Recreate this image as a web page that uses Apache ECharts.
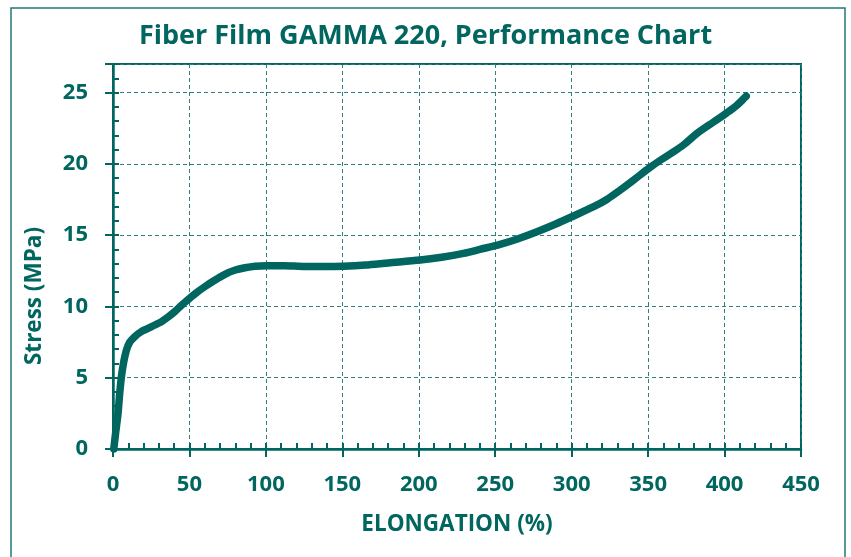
<!DOCTYPE html>
<html>
<head>
<meta charset="utf-8">
<script src="https://cdn.jsdelivr.net/npm/echarts@6/dist/echarts.min.js"></script>
<style>html,body{margin:0;padding:0;background:#fff}#c{width:851px;height:557px}</style>
</head>
<body>
<div id="c"></div>
<script>
const titleText = 'Fiber Film GAMMA 220, Performance Chart';
const xName = 'ELONGATION (%)';
const yName = 'Stress (MPa)';
const xTicks = [0, 50, 100, 150, 200, 250, 300, 350, 400, 450];
const yTicks = [0, 5, 10, 15, 20, 25];
const elongation = [0.5, 1.8, 3.3, 4.3, 5.5, 7, 8.8, 11, 14.2, 18, 22.9, 27, 31.7, 36, 40.4, 45, 50.9, 55, 60, 66, 73.2, 80, 86.3, 93, 100.5, 112, 125.5, 138, 150.6, 165, 180, 200.9, 215, 229.2, 240, 253.2, 265, 277.3, 290, 300.2, 314.4, 323, 331.8, 341, 350.4, 358, 366.8, 374, 382.1, 393, 401, 408, 414.2];
const stress = [0, 1.2, 2.5, 3.8, 5.07, 6.1, 6.94, 7.5, 7.88, 8.2, 8.46, 8.68, 8.93, 9.25, 9.63, 10.1, 10.64, 11.0, 11.38, 11.8, 12.25, 12.55, 12.71, 12.82, 12.86, 12.86, 12.8, 12.8, 12.82, 12.9, 13.05, 13.25, 13.45, 13.72, 14.0, 14.35, 14.75, 15.24, 15.8, 16.29, 16.99, 17.5, 18.16, 18.9, 19.68, 20.25, 20.85, 21.4, 22.14, 22.95, 23.54, 24.1, 24.75];

const C = '#00665f';
const GRIDC = '#2f7f7f';
const FONT = 'Open Sans';
const chart = echarts.init(document.getElementById('c'));
const xMax = xTicks[xTicks.length - 1];
const yMax = 27;
chart.setOption({
  animation: false,
  title: {
    text: titleText, left: 'center', top: 18,
    textStyle: {color: C, fontFamily: FONT, fontWeight: 'bold', fontSize: 27}
  },
  graphic: [
    {type: 'rect', shape: {x: 11, y: 8, width: 834, height: 570}, style: {fill: 'none', stroke: '#1f7a78', lineWidth: 1.5}, silent: true},
    {type: 'text', x: 35, y: 296, rotation: Math.PI / 2,
     style: {text: yName, fill: C, font: 'bold 22.5px "Open Sans"', align: 'center', verticalAlign: 'middle'}}
  ],
  grid: {left: 113, right: 50, top: 64, bottom: 108, show: true, borderColor: C, borderWidth: 2, backgroundColor: 'transparent'},
  xAxis: [{
    type: 'value', min: 0, max: xMax, interval: 50, position: 'bottom',
    name: xName, nameLocation: 'middle', nameGap: 64,
    nameTextStyle: {color: C, fontFamily: FONT, fontWeight: 'bold', fontSize: 22.5},
    axisLine: {onZero: false, lineStyle: {color: C, width: 2.5}},
    axisTick: {show: true, length: 8, lineStyle: {color: C, width: 2}},
    axisLabel: {color: C, fontFamily: FONT, fontWeight: 'bold', fontSize: 22, margin: 25,
      formatter: v => xTicks.includes(v) ? String(v) : ''},
    splitLine: {show: true, lineStyle: {color: GRIDC, width: 1, type: [4, 3]}}
  }, {
    type: 'value', min: 0, max: xMax, interval: 10, position: 'bottom',
    axisLine: {show: false, onZero: false},
    axisTick: {show: true, inside: true, length: 6, lineStyle: {color: C, width: 2}},
    axisLabel: {show: false}, splitLine: {show: false}
  }],
  yAxis: [{
    type: 'value', min: 0, max: yMax, interval: 5, position: 'left',
    axisLine: {onZero: false, lineStyle: {color: C, width: 2.5}},
    axisTick: {show: true, length: 8, lineStyle: {color: C, width: 2}},
    axisLabel: {color: C, fontFamily: FONT, fontWeight: 'bold', fontSize: 22, margin: 25,
      formatter: v => yTicks.includes(v) ? String(v) : ''},
    splitLine: {show: true, lineStyle: {color: GRIDC, width: 1, type: [4, 3]}}
  }, {
    type: 'value', min: 0, max: yMax, interval: 1, position: 'left',
    axisLine: {show: false, onZero: false},
    axisTick: {show: true, inside: true, length: 6, lineStyle: {color: C, width: 2}},
    axisLabel: {show: false}, splitLine: {show: false}
  }],
  series: [{
    type: 'line', xAxisIndex: 0, yAxisIndex: 0, smooth: 0.3, showSymbol: false,
    data: elongation.map((x, i) => [x, stress[i]]),
    lineStyle: {color: C, width: 7.5, cap: 'round', join: 'round'}
  }]
});
</script>
</body>
</html>
